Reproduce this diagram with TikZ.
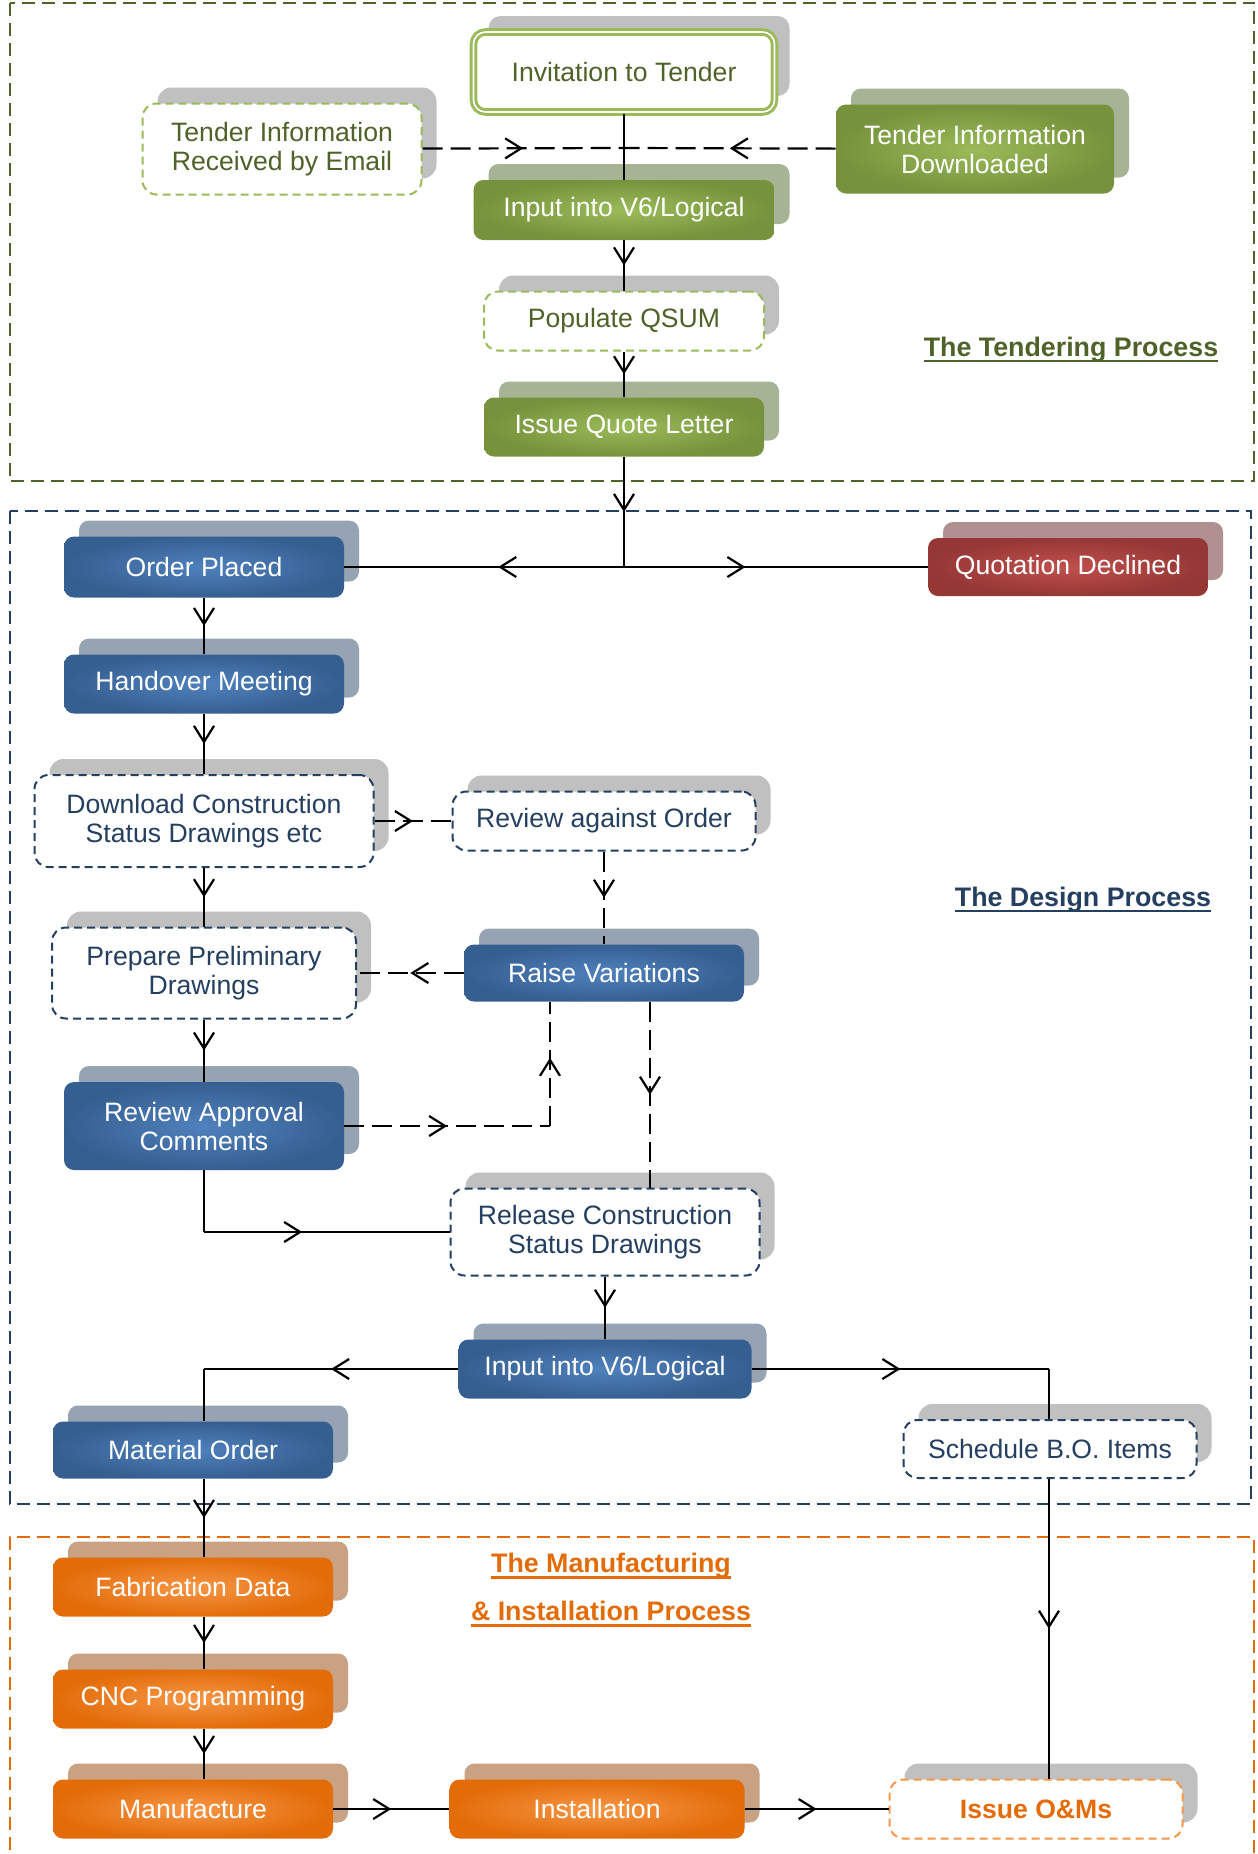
\documentclass[tikz,border=0pt]{standalone}
\usepackage{fontspec}
\setmainfont{Liberation Sans}
\usepackage{tikz}
\usetikzlibrary{arrows.meta,decorations.markings,shadows}

\definecolor{grnD}{HTML}{76923C}
\definecolor{grnL}{HTML}{9BBB59}
\definecolor{grnS}{HTML}{A6B395}
\definecolor{olv}{HTML}{4F6228}
\definecolor{bluD}{HTML}{365F91}
\definecolor{bluL}{HTML}{4F81BD}
\definecolor{bluS}{HTML}{95A3B3}
\definecolor{nav}{HTML}{243F60}
\definecolor{redD}{HTML}{953735}
\definecolor{redL}{HTML}{C0504D}
\definecolor{redS}{HTML}{B09090}
\definecolor{orgD}{HTML}{E36C09}
\definecolor{orgL}{HTML}{F79646}
\definecolor{orgS}{HTML}{C9A283}
\definecolor{shg}{HTML}{C0C0C0}

% thick underline for the group titles
\newcommand{\grpul}[1]{\setbox0\hbox{#1}\rlap{\rule[-2.8pt]{\wd0}{1.1pt}}\box0}

\begin{document}
\begin{tikzpicture}[x=0.5pt,y=-0.5pt,
    every node/.style={font=\fontsize{13.3}{14.5}\selectfont,align=center,inner sep=2pt},
    shd/.style={general shadow={fill=#1,shadow xshift=7.5pt,shadow yshift=8pt}},
    fbox/.style={rounded corners=5pt,minimum width=140pt,minimum height=29.5pt,text=white},
    grnbox/.style={fbox,inner color=grnL,outer color=grnD,shd=grnS},
    blubox/.style={fbox,inner color=bluL,outer color=bluD,shd=bluS},
    redbox/.style={fbox,inner color=redL,outer color=redD,shd=redS},
    orgbox/.style={fbox,inner color=orgL,outer color=orgD,shd=orgS},
    dbox/.style={rounded corners=7pt,minimum width=140pt,minimum height=29.5pt,fill=white,line width=1pt,dash pattern=on 4pt off 2.5pt,shd=shg},
    grndash/.style={dbox,draw=grnL,text=olv},
    navdash/.style={dbox,draw=nav,text=nav},
    orgdash/.style={dbox,draw=orgL,text=orgD,font=\fontsize{13.3}{14.5}\selectfont\bfseries},
    invit/.style={rounded corners=6pt,minimum width=150.5pt,minimum height=40pt,fill=white,draw=grnL,line width=1.5pt,double=white,double distance=0.8pt,text=olv,shd=shg},
    grp/.style={draw=#1,line width=1pt,dash pattern=on 6.5pt off 3.5pt},
    con/.style={line width=1.1pt},
    dcon/.style={con,dash pattern=on 10pt off 4pt},
    grptitle/.style={font=\fontsize{13.4}{24}\selectfont\bfseries,text=#1},
]
        \tikzset{>={Straight Barb[length=8pt,width=10pt,line width=1.1pt]}}
        \tikzset{midarr/.style={postaction={decorate,decoration={markings,mark=at position #1 with {\arrow{>}}}}},midarr/.default=0.5}

        \useasboundingbox (0,0) rectangle (1258,1854);

	%---GROUPS---
        \draw[grp=olv]   (9.5,2.5) rectangle (1254,481) ;
        \draw[grp=nav]   (9.5,511) rectangle (1251,1504) ;
        \draw[grp=orgD]  (9.5,1870) -- (9.5,1537) -- (1254,1537) -- (1254,1870) ;

	%---NODES---
        % tendering
        \node[invit] (itt) at (624,72) {Invitation to Tender};
        \node[grndash, minimum width=139.5pt, minimum height=45.5pt] (email) at (282,149) {Tender Information\\Received by Email};
        \node[grnbox, minimum width=139pt, minimum height=44.5pt] (tdl) at (975,149) {Tender Information\\Downloaded};
        \node[grnbox, minimum width=150.5pt, minimum height=30pt] (inp1) at (624,210) {Input into V6/Logical};
        \node[grndash] (qsum) at (624,321) {Populate QSUM};
        \node[grnbox] (iql) at (624,427) {Issue Quote Letter};

        % design
        \node[blubox, minimum height=30.5pt] (op) at (204,567) {Order Placed};
        \node[redbox, minimum height=29pt] (qd) at (1068,567) {Quotation Declined};
        \node[blubox] (ho) at (204,684) {Handover Meeting};
        \node[navdash, minimum width=169.5pt, minimum height=46pt] (dcs) at (204,821) {Download Construction\\Status Drawings etc};
        \node[navdash, minimum width=151.5pt] (rao) at (604,821) {Review against Order};
        \node[navdash, minimum width=152pt, minimum height=45.5pt] (ppd) at (204,973) {Prepare Preliminary\\Drawings};
        \node[blubox, minimum height=28.5pt] (rv) at (604,973) {Raise Variations};
        \node[blubox, minimum height=44pt] (rac) at (204,1126) {Review Approval\\Comments};
        \node[navdash, minimum width=154.5pt, minimum height=43.5pt] (rcs) at (605,1232) {Release Construction\\Status Drawings};
        \node[blubox, minimum width=146.5pt] (inp2) at (605,1369) {Input into V6/Logical};
        \node[blubox, minimum height=28.5pt] (mo) at (193,1450) {Material Order};
        \node[navdash, minimum width=146.5pt, minimum height=29pt] (sbo) at (1050,1449) {Schedule B.O. Items};

        % manufacturing
        \node[orgbox] (fab) at (193,1587) {Fabrication Data};
        \node[orgbox] (cnc) at (193,1699) {CNC Programming};
        \node[orgbox] (man) at (193,1809) {Manufacture};
        \node[orgbox, minimum width=147.5pt] (ins) at (597,1809) {Installation};
        \node[orgdash, minimum width=146.5pt] (iom) at (1036,1809) {Issue O\&Ms};

        \coordinate (j1) at (624,148);
        \coordinate (j2) at (624,567);
        \coordinate (uc) at (550,1126);
        \coordinate (dc) at (650,1100);
        \coordinate (bc) at (204,1232);
        \coordinate (lc) at (204,1369);
        \coordinate (rc) at (1049,1369);

	%---EDGES---
        \draw[con]   (itt) -- (inp1) ;
        \draw[dcon,midarr]   (email) -- (j1) ;
        \draw[dcon,midarr]   (tdl) -- (j1) ;
        \draw[con,midarr]   (inp1) -- (qsum) ;
        \draw[con,midarr]   (qsum) -- (iql) ;
        \draw[con,midarr]   (iql) -- (j2) ;
        \draw[con,midarr=0.45]   (j2) -- (op) ;
        \draw[con,midarr=0.4]   (j2) -- (qd) ;

        \draw[con,midarr]   (op) -- (ho) ;
        \draw[con,midarr]   (ho) -- (dcs) ;
        \draw[dcon,midarr]   (dcs) -- (rao) ;
        \draw[dcon,midarr]   (rao) -- (rv) ;
        \draw[con,midarr]   (dcs) -- (ppd) ;
        \draw[dcon,midarr]   (rv) -- (ppd) ;
        \draw[con,midarr]   (ppd) -- (rac) ;
        \draw[dcon,midarr]   (rac) -- (uc) ;
        \draw[dcon,midarr=0.55]   (uc) -- (uc |- rv.south) ;
        \draw[dcon,midarr]   (dc |- rv.south) -- (dc |- rcs.north) ;
        \draw[con]   (rac) -- (bc) ;
        \draw[con,midarr=0.4]   (bc) -- (rcs) ;
        \draw[con,midarr]   (rcs) -- (inp2) ;
        \draw[con,midarr]   (inp2) -- (lc) ;
        \draw[con]   (lc) -- (lc |- mo.north) ;
        \draw[con,midarr]   (inp2) -- (rc) ;
        \draw[con]   (rc) -- (rc |- sbo.north) ;

        \draw[con,midarr]   (lc |- mo.south) -- (lc |- fab.north) ;
        \draw[con,midarr]   (lc |- fab.south) -- (lc |- cnc.north) ;
        \draw[con,midarr]   (lc |- cnc.south) -- (lc |- man.north) ;
        \draw[con,midarr]   (rc |- sbo.south) -- (rc |- iom.north) ;
        \draw[con,midarr]   (man) -- (ins) ;
        \draw[con,midarr]   (ins) -- (iom) ;

	%---LABELS---
        \node[grptitle=olv] (tlab) at (1071,350) {\grpul{The Tendering Process}};
        \node[grptitle=nav] (dlab) at (1083,900) {\grpul{The Design Process}};
        \node[grptitle=orgD] (mlab) at (611,1590) {\grpul{The Manufacturing}\\\grpul{\& Installation Process}};

\end{tikzpicture}
\end{document}
